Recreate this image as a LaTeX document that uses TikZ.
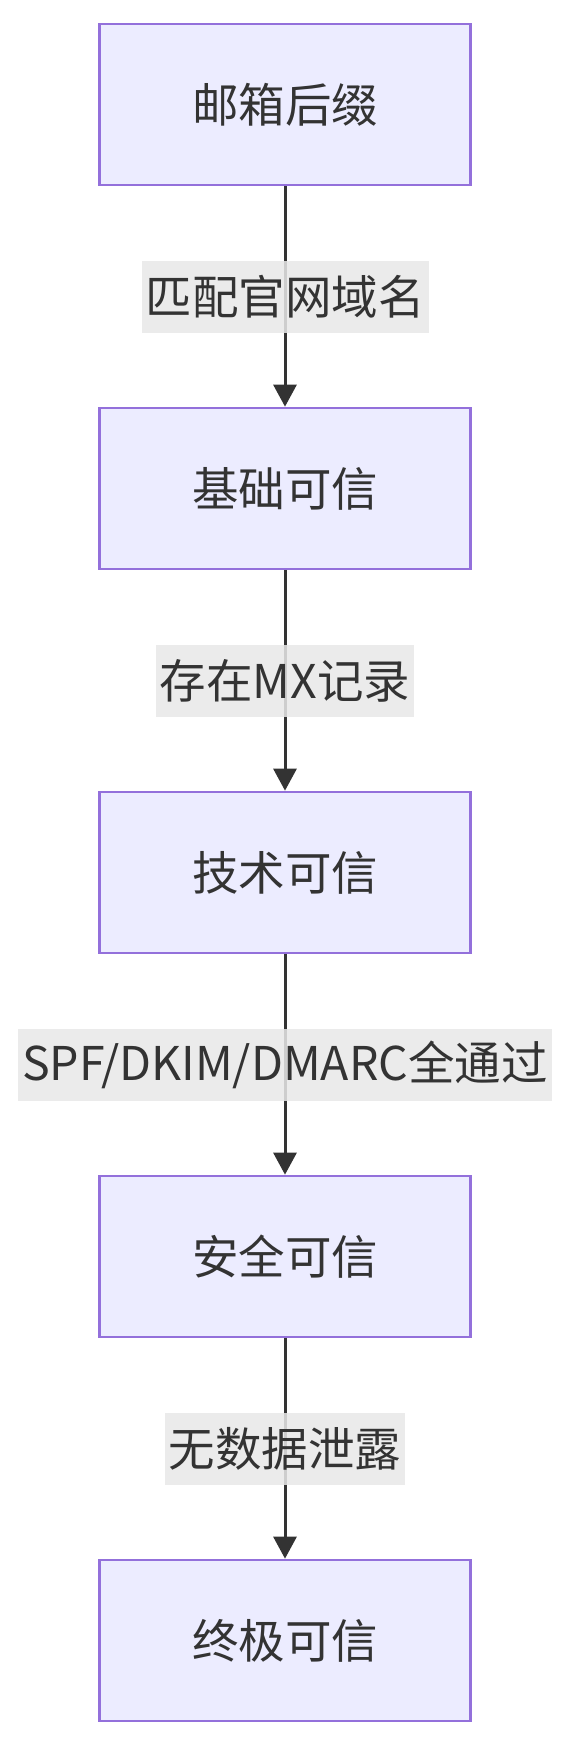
\documentclass[tikz,border=0pt]{standalone}
\usepackage{fontspec}
\setmainfont{Noto Sans CJK SC}
\usepackage{tikz}
\usetikzlibrary{positioning}
\usetikzlibrary{arrows,arrows.meta}

\definecolor{boxfill}{HTML}{ECECFF}
\definecolor{boxline}{HTML}{9370DB}
\definecolor{inkgray}{HTML}{333333}
\definecolor{labelbg}{HTML}{E8E8E8}

\begin{document}
\begin{tikzpicture}[
        x=1pt, y=1pt,
        every node/.style = {text=inkgray, font=\fontsize{46.5}{56}\selectfont},
        stage/.style = {draw=boxline, fill=boxfill, line width=2.7pt, minimum width=371pt, minimum height=161pt, inner sep=0pt},
        flow/.style = {draw=inkgray, line width=3pt, -{Triangle[length=22pt,width=23pt]}},
        cond/.style = {fill=labelbg, fill opacity=0.85, text opacity=1, inner xsep=4pt, inner ysep=0pt, minimum height=72pt}
    ]
    \useasboundingbox (0,0) rectangle (570,-1746);
    \node[stage] (suffix) at (285,-104.5) {邮箱后缀};
    \node[stage] (basic)  at (285,-488.5) {基础可信};
    \node[stage] (tech)   at (285,-872.5) {技术可信};
    \node[stage] (safe)   at (285,-1256.5) {安全可信};
    \node[stage] (final)  at (285,-1640.5) {终极可信};
    \draw[flow] (suffix) -- node[cond] {匹配官网域名} (basic);
    \draw[flow] (basic) -- node[cond] {存在MX记录} (tech);
    \draw[flow] (tech) -- node[cond] {SPF/DKIM/DMARC全通过} (safe);
    \draw[flow] (safe) -- node[cond] {无数据泄露} (final);
\end{tikzpicture}
\end{document}
